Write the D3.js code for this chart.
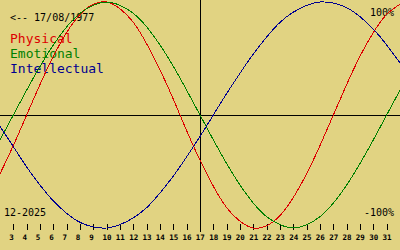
<!DOCTYPE html>
<html>
<head>
  <meta charset="utf-8">
  <script src="https://cdn.jsdelivr.net/npm/d3@7"></script>
  <style>
    body { margin: 0; background: #e1d382; }
    svg { display: block; }
    text { font-family: "DejaVu Sans Mono", monospace; }
    .curve { fill: none; stroke-width: 1px; shape-rendering: crispEdges; }
  </style>
</head>
<body>
<script>
  // days shown in the month (x domain runs 2..32, ticks 3..31)
  var days = d3.range(2, 33);
  var tickDays = d3.range(3, 32);
  var today = 17;

  // values, one per day (days 2..32), -1..1
  var physical = [-0.52, -0.27, 0, 0.27, 0.52, 0.73, 0.89, 0.98, 1.0, 0.94, 0.82,
    0.63, 0.40, 0.14, -0.14, -0.40, -0.63, -0.82, -0.94, -1.0, -0.98, -0.89,
    -0.73, -0.52, -0.27, 0, 0.27, 0.52, 0.73, 0.89, 0.98];
  var emotional = [-0.22, 0, 0.22, 0.43, 0.62, 0.78, 0.90, 0.97, 1.0, 0.97, 0.90,
    0.78, 0.62, 0.43, 0.22, 0, -0.22, -0.43, -0.62, -0.78, -0.90, -0.97,
    -1.0, -0.97, -0.90, -0.78, -0.62, -0.43, -0.22, 0, 0.22];
  var intellectual = [-0.10, -0.28, -0.46, -0.62, -0.76, -0.87, -0.95, -0.99, -1.0,
    -0.97, -0.91, -0.82, -0.69, -0.54, -0.37, -0.19, 0, 0.19, 0.37, 0.54,
    0.69, 0.82, 0.91, 0.97, 1.0, 0.99, 0.95, 0.87, 0.76, 0.62, 0.46];

  var series = [
    {name: "Physical", values: physical, color: "#dd0000"},
    {name: "Emotional", values: emotional, color: "#008000"},
    {name: "Intellectual", values: intellectual, color: "#000090"}
  ];

  var width = 400, height = 250;

  var x = d3.scaleLinear().domain([2, 32]).range([0, width]);
  var y = d3.scaleLinear().domain([-1, 1]).range([228, 2]);

  var svg = d3.select("body").append("svg")
    .attr("width", width)
    .attr("height", height);

  /* header texts */
  svg.append("text")
    .attr("x", 10).attr("y", 21)
    .style("font-size", "10px")
    .text("<-- 17/08/1977");

  svg.selectAll("text.legend")
    .data(series)
    .enter().append("text")
    .attr("class", "legend")
    .attr("x", 10)
    .attr("y", function(d, i) { return 43 + i * 15; })
    .style("font-size", "13px")
    .style("fill", function(d) { return d.color; })
    .text(function(d) { return d.name; });

  svg.append("text")
    .attr("x", 4).attr("y", 216)
    .style("font-size", "10px")
    .text("12-2025");
  svg.append("text")
    .attr("x", 394).attr("y", 16)
    .attr("text-anchor", "end")
    .style("font-size", "10px")
    .text("100%");
  svg.append("text")
    .attr("x", 394).attr("y", 216)
    .attr("text-anchor", "end")
    .style("font-size", "10px")
    .text("-100%");

  /* axes: midline, today line, day ticks */
  var y0 = Math.round(y(0)) + 0.5;
  svg.append("line")
    .attr("x1", 0).attr("x2", width)
    .attr("y1", y0).attr("y2", y0)
    .attr("stroke", "#000")
    .attr("shape-rendering", "crispEdges");

  svg.append("line")
    .attr("x1", x(today) + 0.5).attr("x2", x(today) + 0.5)
    .attr("y1", 0).attr("y2", 232)
    .attr("stroke", "#000")
    .attr("shape-rendering", "crispEdges");

  var ticks = svg.append("g");
  ticks.selectAll("line")
    .data(tickDays)
    .enter().append("line")
    .attr("x1", function(d) { return Math.round(x(d)) + 0.5; })
    .attr("x2", function(d) { return Math.round(x(d)) + 0.5; })
    .attr("y1", 224).attr("y2", 230)
    .attr("stroke", "#000")
    .attr("shape-rendering", "crispEdges");
  ticks.selectAll("text")
    .data(tickDays)
    .enter().append("text")
    .attr("x", function(d) { return x(d) - 4.2; })
    .attr("y", 240)
    .style("font-size", "7.5px")
    .style("font-weight", "bold")
    .text(function(d) { return d; });

  /* biorhythm curves */
  var line = d3.line()
    .x(function(d, i) { return x(days[i]); })
    .y(function(d) { return y(d); })
    .curve(d3.curveNatural);

  svg.selectAll("path.curve")
    .data(series)
    .enter().append("path")
    .attr("class", "curve")
    .attr("stroke", function(d) { return d.color; })
    .attr("d", function(d) { return line(d.values); });
</script>
</body>
</html>
